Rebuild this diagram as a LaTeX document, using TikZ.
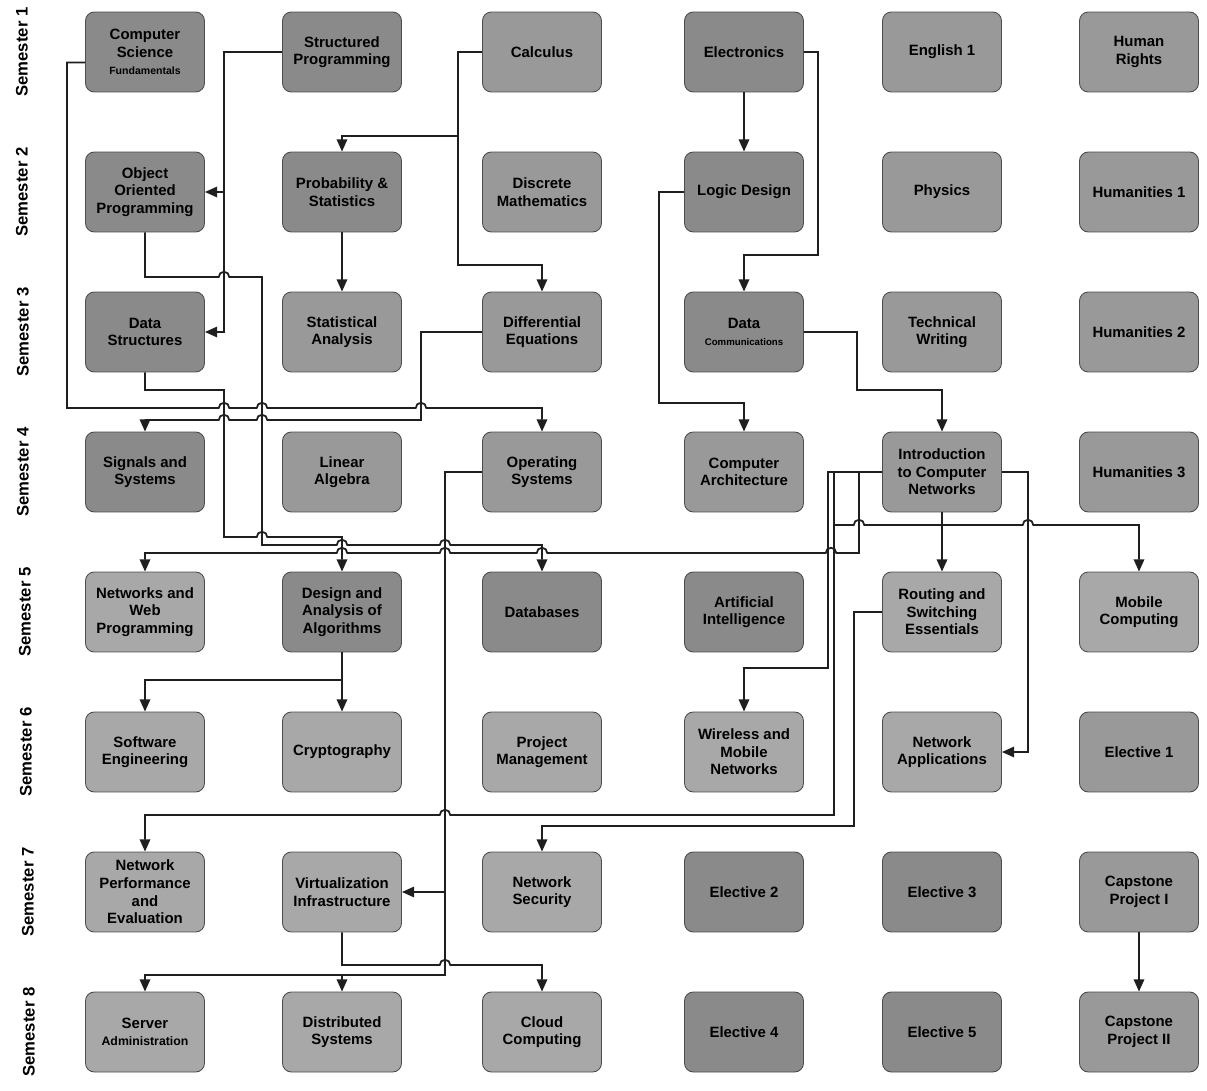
\documentclass[tikz,border=0pt]{standalone}
\usepackage{fontspec}
\setmainfont{Liberation Sans}
\usetikzlibrary{arrows.meta}

\begin{document}
\begin{tikzpicture}[
        x=0.02cm, y=-0.02cm,
    font=\bfseries\fontsize{8.5}{10}\selectfont,
    >={Triangle[length=7pt,width=6pt]},
    course/.style={draw=boxline, line width=0.5pt, rounded corners=5pt,
        minimum width=2.38cm, minimum height=1.6cm, align=center, inner sep=1pt},
    dk/.style={course, fill=dkx},
    md/.style={course, fill=mdx},
    lt/.style={course, fill=ltx},
    sem/.style={rotate=90, font=\bfseries\fontsize{9.5}{11}\selectfont},
    link/.style={->, line width=1pt, draw=linex},
    hop/.style={insert path={-- ([xshift=-3pt]#1) arc[start angle=180,end angle=0,radius=3pt]}}
]
\colorlet{dkx}{black!46}
\colorlet{mdx}{black!40}
    \colorlet{ltx}{black!34}
\colorlet{boxline}{black!70}
\colorlet{linex}{black!88}

    \useasboundingbox (0,0) rectangle (1207,1091);

    \node [sem] (s1) at (22,52) {Semester 1};
    \node [sem] (s2) at (22,192) {Semester 2};
    \node [sem] (s3) at (23,332) {Semester 3};
    \node [sem] (s4) at (23,472) {Semester 4};
    \node [sem] (s5) at (25,612) {Semester 5};
    \node [sem] (s6) at (26,752) {Semester 6};
    \node [sem] (s7) at (28,892) {Semester 7};
    \node [sem] (s8) at (29,1032) {Semester 8};

    \node [dk] (csf) at (145,52) {Computer\\Science\\{\fontsize{6}{7}\selectfont Fundamentals}};
    \node [dk] (sp) at (342,52) {Structured\\Programming};
    \node [md] (calc) at (542,52) {Calculus};
    \node [dk] (elec) at (744,52) {Electronics};
    \node [md] (eng) at (942,52) {English 1};
    \node [md] (hr) at (1139,52) {Human\\Rights};

    \node [dk] (oop) at (145,192) {Object\\Oriented\\Programming};
    \node [dk] (prob) at (342,192) {Probability \&\\Statistics};
    \node [md] (disc) at (542,192) {Discrete\\Mathematics};
    \node [dk] (logic) at (744,192) {Logic Design};
    \node [md] (phys) at (942,192) {Physics};
    \node [md] (hum1) at (1139,192) {Humanities 1};

    \node [dk] (ds) at (145,332) {Data\\Structures};
    \node [md] (stat) at (342,332) {Statistical\\Analysis};
    \node [md] (deq) at (542,332) {Differential\\Equations};
    \node [dk] (dcom) at (744,332) {Data\\{\fontsize{5.5}{7}\selectfont Communications}};
    \node [md] (tw) at (942,332) {Technical\\Writing};
    \node [md] (hum2) at (1139,332) {Humanities 2};

    \node [dk] (sig) at (145,472) {Signals and\\Systems};
    \node [md] (lina) at (342,472) {Linear\\Algebra};
    \node [md] (os) at (542,472) {Operating\\Systems};
    \node [md] (carch) at (744,472) {Computer\\Architecture};
    \node [md] (icn) at (942,472) {Introduction\\to Computer\\Networks};
    \node [md] (hum3) at (1139,472) {Humanities 3};

    \node [lt] (nwp) at (145,612) {Networks and\\Web\\Programming};
    \node [dk] (daa) at (342,612) {Design and\\Analysis of\\Algorithms};
    \node [dk] (db) at (542,612) {Databases};
    \node [dk] (ai) at (744,612) {Artificial\\Intelligence};
    \node [lt] (rse) at (942,612) {Routing and\\Switching\\Essentials};
    \node [lt] (mc) at (1139,612) {Mobile\\Computing};

    \node [lt] (se) at (145,752) {Software\\Engineering};
    \node [lt] (crypt) at (342,752) {Cryptography};
    \node [lt] (pm) at (542,752) {Project\\Management};
    \node [lt] (wmn) at (744,752) {Wireless and\\Mobile\\Networks};
    \node [lt] (na) at (942,752) {Network\\Applications};
    \node [md] (el1) at (1139,752) {Elective 1};

    \node [lt] (npe) at (145,892) {Network\\Performance\\and\\Evaluation};
    \node [lt] (vi) at (342,892) {Virtualization\\Infrastructure};
    \node [lt] (ns) at (542,892) {Network\\Security};
    \node [dk] (el2) at (744,892) {Elective 2};
    \node [dk] (el3) at (942,892) {Elective 3};
    \node [md] (cap1) at (1139,892) {Capstone\\Project I};

    \node [lt] (sa) at (145,1032) {Server\\{\fontsize{7}{8}\selectfont Administration}};
    \node [lt] (dsys) at (342,1032) {Distributed\\Systems};
    \node [lt] (cc) at (542,1032) {Cloud\\Computing};
    \node [dk] (el4) at (744,1032) {Elective 4};
    \node [dk] (el5) at (942,1032) {Elective 5};
    \node [md] (cap2) at (1139,1032) {Capstone\\Project II};

    \draw [link] (csf.190)
        -| (67,408) [hop={224,408}] [hop={262,408}] [hop={421,408}]
        -| (os.north)
    ;
    \draw [link] (sp.west) -| (224,192) -- (oop.east);
    \draw [link] (sp.west) -| (224,332) -- (ds.east);
    \draw [link] (oop.south)
        -- (145,277) [hop={224,277}]
        -| (262,545) [hop={342,545}] [hop={445,545}]
        -| (db.north)
    ;
    \draw [link] (ds.south)
        |- (224,390) -- (224,537) [hop={262,537}]
        -| (daa.north)
    ;
    \draw [link, <-] (sig.north)
        -- (145,420) [hop={224,420}] [hop={262,420}]
        -- (421,420) |- (deq.west)
    ;
    \draw [link] (calc.west) -| (458,136) -| (prob.north);
    \draw [link] (calc.west) -| (458,265) -| (deq.north);
    \draw [link] (prob) -- (stat);

    \draw [link] (elec) -- (logic);
    \draw [link] (elec.east) -| (818,255) -| (dcom.north);
    \draw [link] (logic.west) -| (659,403) -| (carch.north);
    \draw [link] (dcom.east) -| (857,390) -| (icn.north);

    \draw [link] (icn) -- (rse);
    \draw [link] (icn.east) -| (1028,752) -- (na.east);
    \draw [link, <-] (nwp.north)
        -- (145,553) [hop={342,553}] [hop={445,553}] [hop={542,553}] [hop={831,553}]
        -- (859,553) |- (icn.west)
    ;
    \draw [link] (icn.west) -| (828,668) -| (wmn.north);
    \draw [link] (icn.west)
        -| (834,525) [hop={859,525}] [hop={1028,525}]
        -| (mc.north)
    ;
    \draw [link, <-] (npe.north)
        -- (145,815) [hop={445,815}]
        -- (834,815) |- (icn.west)
    ;
    \draw [link] (rse.west) -| (854,826) -| (ns.north);

    \draw [link] (daa) -- (crypt);
    \draw [link] (daa.south) -- (342,680) -| (se.north);

    \draw [link] (os.west) -| (445,892) -- (vi.east);
    \draw [link] (os.west) -| (445,975) -| (sa.north);
    \draw [link] (os.west) -| (445,975) -| (dsys.north);
    \draw [link] (vi.south) -- (342,965) [hop={445,965}] -| (cc.north);

    \draw [link] (cap1) -- (cap2);
  \end{tikzpicture}
\end{document}
